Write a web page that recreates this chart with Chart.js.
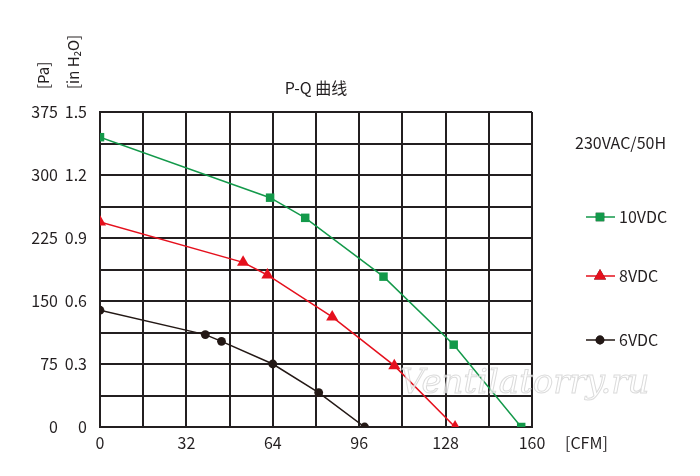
<!DOCTYPE html>
<html>
<head>
<meta charset="utf-8">
<script src="https://cdn.jsdelivr.net/npm/chart.js@4.4.1/dist/chart.umd.min.js"></script>
<style>
  html, body { margin: 0; padding: 0; background: #fff; }
  #wrap { width: 700px; height: 476px; }
</style>
</head>
<body>
<div id="wrap"><canvas id="pq"></canvas></div>
<script>
// airflow [CFM] and static pressure [Pa]
const flow10 = [0, 63, 76, 105, 131, 156];
const pres10 = [345, 273, 249, 179, 98, 0];
const flow8 = [0, 53, 62, 86, 109, 131.5];
const pres8 = [244, 196, 181, 131, 73, 0];
const flow6 = [0, 39, 45, 64, 81, 98];
const pres6 = [139, 110, 102, 75, 41, 0];

const seriesNames = ['10VDC', '8VDC', '6VDC'];
const xTicks = [0, 32, 64, 96, 128, 160];
const paTicks = [0, 75, 150, 225, 300, 375];
const PA_PER_INH2O = 250;

const GREEN = '#13994a';
const RED = '#e5101d';
const BLACK = '#231815';
const FONT = '"Noto Sans CJK SC", "Noto Sans", sans-serif';

const pts = (xs, ys) => xs.map((x, i) => ({ x, y: ys[i] }));

const extras = {
  id: 'extras',
  afterDatasetsDraw(chart) {
    const ctx = chart.ctx;
    ctx.save();
    // watermark
    ctx.font = 'italic 34px "DejaVu Serif", serif';
    ctx.textAlign = 'left';
    ctx.textBaseline = 'middle';
    ctx.fillStyle = 'rgba(255,255,255,0.75)';
    ctx.strokeStyle = 'rgba(190,190,190,0.55)';
    ctx.lineWidth = 1;
    ctx.fillText('Ventilatorry.ru', 400, 384);
    ctx.strokeText('Ventilatorry.ru', 400, 384);
    ctx.restore();
  },
  afterDraw(chart) {
    const ctx = chart.ctx;
    ctx.save();
    ctx.fillStyle = '#231f20';
    ctx.font = '16px ' + FONT;
    ctx.textBaseline = 'middle';

    ctx.textAlign = 'center';
    ctx.fillText('P-Q 曲线', 316, 88);
    ctx.textAlign = 'left';
    ctx.fillText('[CFM]', 565, 443);
    ctx.fillText('230VAC/50H', 575, 143);

    // rotated axis units
    ctx.font = '15px ' + FONT;
    [['[Pa]', 43], ['[in H₂O]', 73]].forEach(([t, x]) => {
      ctx.save();
      ctx.translate(x, 89);
      ctx.rotate(-Math.PI / 2);
      ctx.textAlign = 'left';
      ctx.fillText(t, 0, 0);
      ctx.restore();
    });

    // legend
    ctx.font = '16px ' + FONT;
    const rows = [217, 276, 340];
    chart.data.datasets.forEach((ds, i) => {
      const y = rows[i];
      ctx.strokeStyle = ds.borderColor;
      ctx.lineWidth = 1.5;
      ctx.beginPath();
      ctx.moveTo(586, y);
      ctx.lineTo(615, y);
      ctx.stroke();
      Chart.helpers.drawPoint(ctx, {
        pointStyle: ds.pointStyle,
        radius: ds.pointRadius,
        rotation: 0,
        borderWidth: 0
      }, 600, y);
      ctx.fillStyle = ds.backgroundColor;
      ctx.fill();
      ctx.fillStyle = '#231f20';
      ctx.fillText(ds.label, 619, y);
    });
    ctx.restore();
  }
};

const line = (label, data, color, style, r) => ({
  label, data,
  showLine: true,
  borderColor: color,
  backgroundColor: color,
  borderWidth: 1.5,
  pointStyle: style,
  pointRadius: r,
  pointHoverRadius: r,
  pointBorderWidth: 0
});

const tickFont = { family: FONT, size: 16 };

new Chart(document.getElementById('pq'), {
  type: 'scatter',
  plugins: [extras],
  data: {
    datasets: [
      line(seriesNames[0], pts(flow10, pres10), GREEN, 'rect', 6),
      line(seriesNames[1], pts(flow8, pres8), RED, 'triangle', 7),
      line(seriesNames[2], pts(flow6, pres6), BLACK, 'circle', 4.4)
    ]
  },
  options: {
    responsive: true,
    maintainAspectRatio: false,
    animation: false,
    layout: { padding: { left: 0, right: 168, top: 112, bottom: 0 } },
    plugins: { legend: { display: false }, tooltip: { enabled: false } },
    scales: {
      x: {
        type: 'linear',
        min: 0, max: 160,
        afterFit: s => { s.height = 49; },
        afterBuildTicks: s => { s.ticks = []; for (let v = 0; v <= 160; v += 16) s.ticks.push({ value: v }); },
        grid: { color: '#231f20', lineWidth: 2, drawTicks: false },
        border: { color: '#231f20', width: 2 },
        ticks: {
          padding: 6,
          color: '#231f20',
          font: tickFont,
          autoSkip: false,
          maxRotation: 0,
          callback: v => xTicks.includes(v) ? String(v) : ''
        }
      },
      y: {
        type: 'linear',
        position: 'left',
        weight: 1,
        min: 0, max: 375,
        afterFit: s => { s.width = 38; },
        afterBuildTicks: s => { s.ticks = []; for (let v = 0; v <= 375; v += 37.5) s.ticks.push({ value: v }); },
        grid: { color: '#231f20', lineWidth: 2, drawTicks: false },
        border: { color: '#231f20', width: 2 },
        ticks: {
          padding: 13,
          color: '#231f20',
          font: tickFont,
          autoSkip: false,
          callback: v => paTicks.includes(v) ? String(+(v / PA_PER_INH2O).toFixed(1)) : ''
        }
      },
      pa: {
        type: 'linear',
        position: 'left',
        weight: 2,
        min: 0, max: 375,
        afterFit: s => { s.width = 62; },
        afterBuildTicks: s => { s.ticks = paTicks.map(v => ({ value: v })); },
        grid: { display: false, drawTicks: false },
        border: { display: false },
        ticks: {
          padding: 4,
          color: '#231f20',
          font: tickFont,
          autoSkip: false
        }
      }
    }
  }
});
</script>
</body>
</html>
